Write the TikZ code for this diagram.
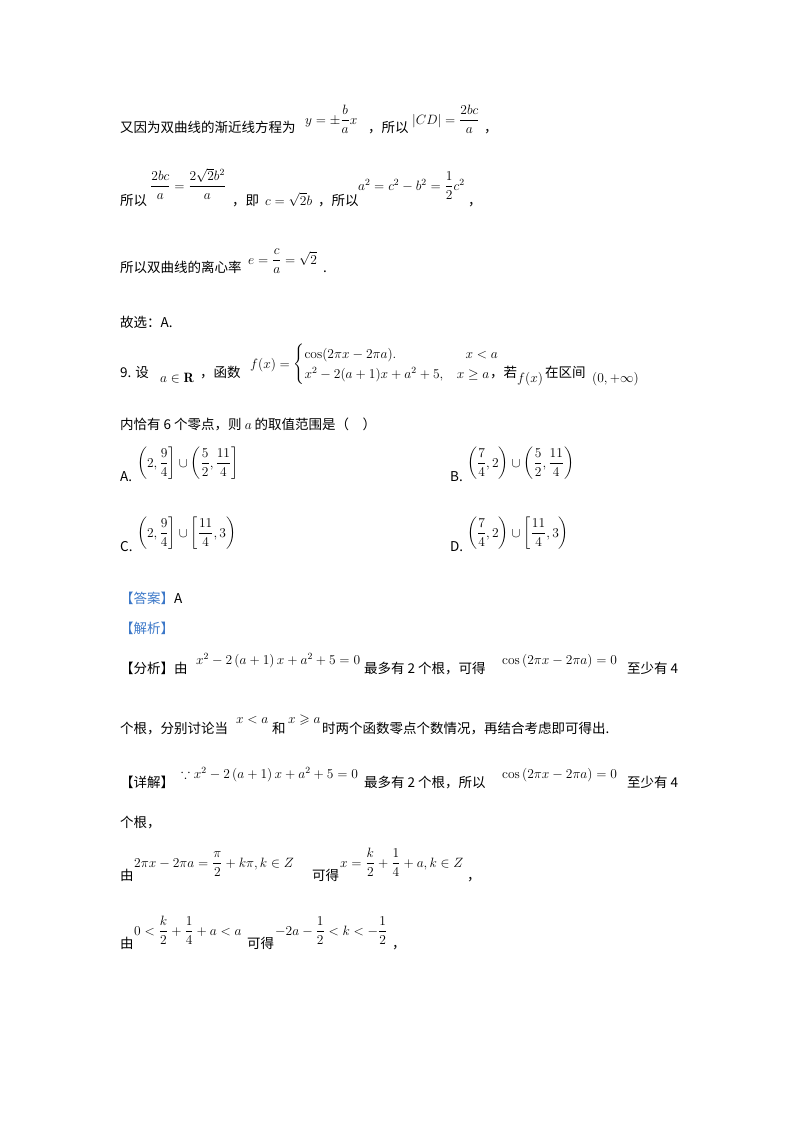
\RequirePackage{fix-cm}
\documentclass[tikz,border=0pt]{standalone}
\usepackage{amsmath,amssymb}
\usepackage{fontspec}
\newfontfamily\cjk{Noto Sans CJK SC}
\definecolor{ansblue}{RGB}{60,120,200}
\begin{document}
\begin{tikzpicture}[x=1pt,y=-1pt,
  txt/.style={anchor=base west,inner sep=0pt,font=\cjk\fontsize{13.5}{16}\selectfont},
  mth/.style={anchor=base west,inner sep=0pt,font=\fontsize{13.5}{16}\selectfont}]
\useasboundingbox (0,0) rectangle (800,1132);
\node[txt] (l1a) at (120,132) {又因为双曲线的渐近线方程为};
\node[mth] (l1b) at (305,124) {$y=\pm\dfrac{b}{a}x$};
\node[txt] (l1c) at (368,132) {，所以};
\node[mth] (l1d) at (412,124) {$\left|CD\right|=\dfrac{2bc}{a}$};
\node[txt] (l1e) at (484,132) {，};

\node[txt] (l2a) at (120,205) {所以};
\node[mth] (l2b) at (150,190) {$\dfrac{2bc}{a}=\dfrac{2\sqrt2 b^2}{a}$};
\node[txt] (l2c) at (232,205) {，即};
\node[mth] (l2d) at (265,205) {$c=\sqrt2 b$};
\node[txt] (l2e) at (318,205) {，所以};
\node[mth] (l2f) at (358,190) {$a^2=c^2-b^2=\dfrac12 c^2$};
\node[txt] (l2g) at (468,205) {，};

\node[txt] (l3a) at (120,272) {所以双曲线的离心率};
\node[mth] (l3b) at (248,264) {$e=\dfrac{c}{a}=\sqrt2$};
\node[txt] (l3c) at (323,272) {.};

\node[txt] (l4) at (120,327) {故选：A.};

\node[txt] (q9a) at (120,377) {9. 设};
\node[mth] (q9b) at (160,382) {$a\in\mathbf R$};
\node[txt] (q9c) at (200,377) {，函数};
\node[mth] (q9d) at (250,368) {$f(x)=\begin{cases}\cos(2\pi x-2\pi a). & \ \ x<a\\ x^2-2(a+1)x+a^2+5, & x\ge a\end{cases}$};
\node[txt] (q9e) at (490,377) {，若};
\node[mth] (q9f) at (517,382) {$f(x)$};
\node[txt] (q9g) at (545,377) {在区间};
\node[mth] (q9h) at (592,382) {$(0,+\infty)$};

\node[txt] (l5) at (120,429) {内恰有 6 个零点，则 $a$ 的取值范围是（\quad）};

\node[txt] (oA) at (120,481) {A.};
\node[mth] (oAm) at (137,467) {$\left(2,\dfrac94\right]\cup\left(\dfrac52,\dfrac{11}4\right]$};
\node[txt] (oB) at (450,481) {B.};
\node[mth] (oBm) at (467,467) {$\left(\dfrac74,2\right)\cup\left(\dfrac52,\dfrac{11}4\right)$};
\node[txt] (oC) at (120,551) {C.};
\node[mth] (oCm) at (137,537) {$\left(2,\dfrac94\right]\cup\left[\dfrac{11}4,3\right)$};
\node[txt] (oD) at (450,551) {D.};
\node[mth] (oDm) at (467,537) {$\left(\dfrac74,2\right)\cup\left[\dfrac{11}4,3\right)$};

\node[txt] (ans) at (120,603) {\textcolor{ansblue}{【答案】}A};
\node[txt] (jx) at (120,633) {\textcolor{ansblue}{【解析】}};

\node[txt] (fx1) at (120,673) {【分析】由};
\node[mth] (fx2) at (196,664) {$x^2-2\left(a+1\right)x+a^2+5=0$};
\node[txt] (fx3) at (364,673) {最多有 2 个根，可得};
\node[mth] (fx4) at (502,664) {$\cos\left(2\pi x-2\pi a\right)=0$};
\node[txt] (fx5) at (627,673) {至少有 4};

\node[txt] (fy1) at (120,733) {个根，分别讨论当};
\node[mth] (fy2) at (236,723) {$x<a$};
\node[txt] (fy3) at (272,733) {和};
\node[mth] (fy4) at (288,723) {$x\geqslant a$};
\node[txt] (fy5) at (322,733) {时两个函数零点个数情况，再结合考虑即可得出.};

\node[txt] (xj1) at (120,787) {【详解】};
\node[mth] (xj2) at (181,778) {$\because x^2-2\left(a+1\right)x+a^2+5=0$};
\node[txt] (xj3) at (364,787) {最多有 2 个根，所以};
\node[mth] (xj4) at (502,778) {$\cos\left(2\pi x-2\pi a\right)=0$};
\node[txt] (xj5) at (627,787) {至少有 4};

\node[txt] (gen) at (120,827) {个根，};

\node[txt] (y1a) at (120,880) {由};
\node[mth] (y1b) at (134,867) {$2\pi x-2\pi a=\dfrac{\pi}{2}+k\pi,k\in Z$};
\node[txt] (y1c) at (312,880) {可得};
\node[mth] (y1d) at (340,867) {$x=\dfrac k2+\dfrac14+a,k\in Z$};
\node[txt] (y1e) at (467,880) {，};

\node[txt] (y2a) at (120,948) {由};
\node[mth] (y2b) at (134,935) {$0<\dfrac k2+\dfrac14+a<a$};
\node[txt] (y2c) at (247,948) {可得};
\node[mth] (y2d) at (275,935) {$-2a-\dfrac12<k<-\dfrac12$};
\node[txt] (y2e) at (392,948) {，};
\end{tikzpicture}
\end{document}
